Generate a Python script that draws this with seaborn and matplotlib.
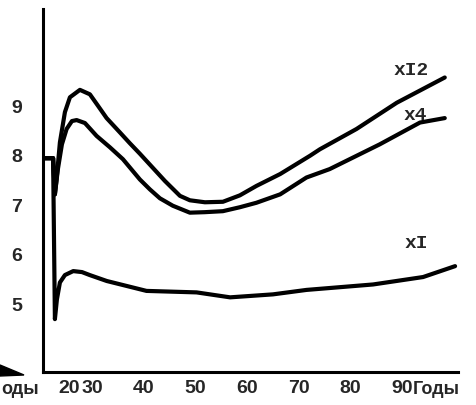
import pandas as pd
import numpy as np
import seaborn as sns
import matplotlib.pyplot as plt
from matplotlib.patches import Polygon

# curves (x = years, y = value)
x12_x = [20.5, 22.4, 22.75, 23.08, 23.72, 24.69, 25.66, 27.6, 29.53, 31.09, 32.77, 35.35, 37.29,
         39.22, 41.16, 44.07, 46.98, 48.91, 51.82, 55.31, 58.6, 61.8, 66.4, 72.2, 74.1, 81.2, 89.0, 98.3]
x12_y = [7.93, 7.93, 7.20, 7.51, 8.25, 8.86, 9.16, 9.31, 9.22, 8.99, 8.74, 8.45, 8.23,
         8.02, 7.80, 7.47, 7.17, 7.08, 7.04, 7.05, 7.18, 7.37, 7.61, 7.98, 8.11, 8.52, 9.05, 9.56]

x4_x = [20.5, 22.4, 22.75, 23.33, 24.11, 25.02, 26.05, 26.96, 28.57, 30.83, 33.41, 35.93, 39.22,
        41.16, 43.1, 45.6, 48.9, 51.8, 55.3, 58.6, 61.8, 66.4, 71.5, 76.0, 85.7, 93.5, 98.3]
x4_y = [7.93, 7.93, 7.20, 7.71, 8.21, 8.52, 8.68, 8.70, 8.64, 8.38, 8.15, 7.91, 7.50,
        7.30, 7.12, 6.97, 6.83, 6.84, 6.86, 6.94, 7.03, 7.20, 7.54, 7.71, 8.21, 8.65, 8.74]

x1_x = [20.5, 22.4, 22.75, 23.14, 23.72, 24.69, 26.3, 28.0, 29.5, 32.8, 40.5, 50.2, 56.7, 65.0,
        71.5, 84.4, 94.1, 100.3]
x1_y = [7.93, 7.93, 4.68, 5.08, 5.42, 5.57, 5.65, 5.63, 5.57, 5.45, 5.25, 5.22, 5.12, 5.18,
        5.27, 5.38, 5.53, 5.75]

x_tick_pos = [25.5, 30, 40, 50, 60, 70, 80, 90]
x_tick_labels = ["20", "30", "40", "50", "60", "70", "80", "90"]
y_ticks = [5, 6, 7, 8, 9]

df = pd.concat([
    pd.DataFrame({"year": x12_x, "val": x12_y, "curve": "xI2"}),
    pd.DataFrame({"year": x4_x, "val": x4_y, "curve": "x4"}),
    pd.DataFrame({"year": x1_x, "val": x1_y, "curve": "xI"}),
])

sns.set_style("white")
plt.rcParams['font.family'] = ['Liberation Sans', 'DejaVu Sans']

fig = plt.figure(figsize=(4.77, 4.06), dpi=100)
ax = fig.add_axes([0.090, 0.081, 0.870, 0.894])

sns.lineplot(data=df, x="year", y="val", hue="curve", units="curve", estimator=None,
             sort=False, palette=["black"] * 3, linewidth=3.0, legend=False, ax=ax)
for line in ax.get_lines():
    line.set_solid_joinstyle("round")
    line.set_solid_capstyle("round")

ax.set_xlim(20.43, 100.85)
ax.set_ylim(3.61, 10.94)

ax.set_xticks(x_tick_pos)
ax.set_xticklabels(x_tick_labels, fontsize=14, fontweight="bold")
ax.set_yticks(y_ticks)
ax.set_yticklabels([str(v) for v in y_ticks], fontsize=14, fontweight="bold")
ax.tick_params(axis="x", direction="in", length=3, width=1.5, pad=5)
ax.tick_params(axis="y", length=0, pad=15)
ax.xaxis.get_major_ticks()[0].tick1line.set_visible(False)
ax.set_xlabel("")
ax.set_ylabel("")

for side in ["top", "right"]:
    ax.spines[side].set_visible(False)
for side in ["left", "bottom"]:
    ax.spines[side].set_linewidth(2.2)
    ax.spines[side].set_color("black")

# curve labels
lab_font = dict(family=["Liberation Mono", "DejaVu Sans Mono"], fontsize=14, fontweight="bold",
                ha="center", va="center", transform=fig.transFigure)
ax.text(411 / 477, 1 - 71 / 406, "xI2", **lab_font)
ax.text(415 / 477, 1 - 115 / 406, "x4", **lab_font)
ax.text(416 / 477, 1 - 244 / 406, "xI", **lab_font)

# axis captions as they show on the scan
fig.text(1 / 477, 1 - 390 / 406, "оды", fontsize=13, fontweight="bold", ha="left", va="center")
fig.text(413 / 477, 1 - 390 / 406, "Годы", fontsize=13, fontweight="bold", ha="left", va="center")
fig.add_artist(Polygon([[0, 1 - 366 / 406], [0, 1 - 377 / 406], [24 / 477, 1 - 376 / 406]],
                       closed=True, transform=fig.transFigure, color="black"))

fig.savefig("out.png", dpi=100)
